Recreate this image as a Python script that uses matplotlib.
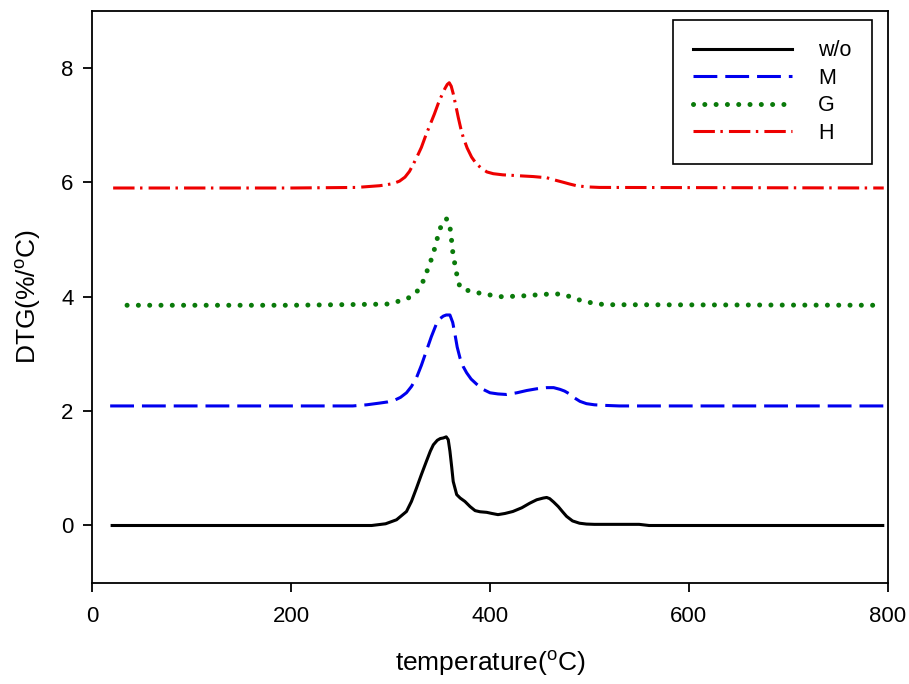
import matplotlib
matplotlib.use("Agg")
import matplotlib.pyplot as plt

plt.rcParams["font.family"] = ["Liberation Sans", "DejaVu Sans"]
plt.rcParams["mathtext.default"] = "regular"

# w/o (black, solid)
t_wo = [20, 100, 200, 281, 295, 306, 316, 321, 326, 331, 336, 340, 343, 347, 350, 353, 356,
        358, 359.7, 361.5, 363, 366.5, 370, 374.8, 380, 385, 390, 396.7, 402, 408, 415, 423,
        432, 440, 447, 453.6, 457, 460, 464, 468.7, 473, 477, 483, 490, 497, 505, 550, 560, 795]
v_wo = [0, 0, 0, 0, 0.03, 0.10, 0.245, 0.42, 0.65, 0.89, 1.12, 1.30, 1.41, 1.49, 1.52, 1.53, 1.55,
        1.50, 1.30, 1.02, 0.77, 0.54, 0.48, 0.42, 0.33, 0.26, 0.24, 0.23, 0.21, 0.19, 0.21, 0.245,
        0.31, 0.39, 0.45, 0.48, 0.49, 0.47, 0.41, 0.33, 0.24, 0.16, 0.08, 0.04, 0.025, 0.02, 0.02, 0, 0]

# M (blue, dashed)
t_m = [18, 100, 200, 262, 276, 289, 297, 304, 310, 316, 321, 326, 331, 336, 341, 346, 350, 353,
       356, 359.7, 362.5, 364.8, 367, 369.8, 373, 376.5, 381, 386.6, 393, 400, 408, 416.8, 427,
       437, 447, 457, 464, 470.4, 475, 480, 485, 490.5, 497, 505, 515, 530, 796]
v_m = [2.09, 2.09, 2.09, 2.09, 2.11, 2.14, 2.16, 2.19, 2.24, 2.32, 2.43, 2.58, 2.80, 3.05, 3.30, 3.52,
       3.62, 3.66, 3.68, 3.68, 3.55, 3.34, 3.12, 2.93, 2.78, 2.67, 2.56, 2.47, 2.38, 2.32, 2.30, 2.29,
       2.32, 2.36, 2.39, 2.41, 2.41, 2.38, 2.35, 2.30, 2.23, 2.17, 2.13, 2.11, 2.10, 2.09, 2.09]

# G (green, dotted)
t_g = [35, 100, 200, 296, 308, 316, 324.5, 329, 333, 336, 339.6, 342, 344.7, 347, 349.7, 352,
       353.7, 356, 358, 360.4, 362.4, 365.8, 369.8, 375, 380, 390, 400, 410, 430, 453.6, 465,
       473.7, 483.8, 492, 500, 510, 520, 796]
v_g = [3.85, 3.85, 3.85, 3.87, 3.92, 3.96, 4.04, 4.15, 4.28, 4.42, 4.57, 4.72, 4.86, 5.02, 5.18,
       5.29, 5.34, 5.36, 5.34, 5.15, 4.80, 4.45, 4.16, 4.12, 4.10, 4.06, 4.03, 4.00, 4.01, 4.04, 4.05,
       4.04, 3.98, 3.93, 3.90, 3.87, 3.86, 3.85]

# H (red, dash-dot)
t_h = [21, 100, 200, 266, 289, 297, 303, 309, 314.5, 319, 323, 327, 331, 335, 339.6, 344, 348,
       351.5, 354.7, 357, 359, 361, 363, 365.5, 368, 370.5, 373, 377, 381.5, 386, 391.6, 397,
       403.3, 413, 423.4, 433, 443.5, 450, 457, 465, 473.7, 480, 487, 497, 510, 796]
v_h = [5.90, 5.90, 5.90, 5.91, 5.94, 5.96, 5.98, 6.02, 6.09, 6.19, 6.32, 6.46, 6.61, 6.80, 7.00,
       7.19, 7.38, 7.52, 7.64, 7.71, 7.74, 7.68, 7.55, 7.35, 7.14, 6.95, 6.79, 6.60, 6.44, 6.33,
       6.24, 6.18, 6.15, 6.13, 6.12, 6.11, 6.10, 6.09, 6.08, 6.04, 6.00, 5.97, 5.94, 5.92, 5.91, 5.90]

labels = ["w/o", "M", "G", "H"]

fig = plt.figure(figsize=(9.09, 6.84), dpi=100)
fig.subplots_adjust(left=0.1015, right=0.9766, bottom=0.1481, top=0.9844)
ax = fig.add_subplot(111)

ax.plot(t_wo, v_wo, color="black", lw=2.2, label=labels[0])
ax.plot(t_m, v_m, color="#0000ee", lw=2.2, dashes=(7.8, 2.6), label=labels[1])
ax.plot(t_g, v_g, color="#0a7a0a", lw=3.6, dashes=(0.01, 2.25),
        dash_capstyle="round", label=labels[2])
ax.plot(t_h, v_h, color="#ee0000", lw=2.2, dashes=(7.0, 1.8, 0.8, 2.0), label=labels[3])

ax.set_xlim(0, 800)
ax.set_ylim(-1, 9)
ax.set_xticks([0, 200, 400, 600, 800])
ax.set_yticks([0, 2, 4, 6, 8])

for s in ax.spines.values():
    s.set_linewidth(1.3)
ax.tick_params(direction="out", length=6.5, width=1.3, labelsize=16)
ax.tick_params(axis="x", pad=10)
ax.tick_params(axis="y", pad=7)

ax.set_xlabel("temperature($^{o}$C)", fontsize=19, labelpad=16)
ax.set_ylabel("DTG(%/$^{o}$C)", fontsize=19, labelpad=13)

leg = ax.legend(loc="upper right", bbox_to_anchor=(0.9803, 0.9837), borderaxespad=0,
                fontsize=15.5, handlelength=4.6, handletextpad=1.2, labelspacing=0.3,
                borderpad=0.95, fancybox=False, framealpha=1)
leg.get_frame().set_edgecolor("black")
leg.get_frame().set_linewidth(1.2)

fig.savefig("out.png", dpi=100)
